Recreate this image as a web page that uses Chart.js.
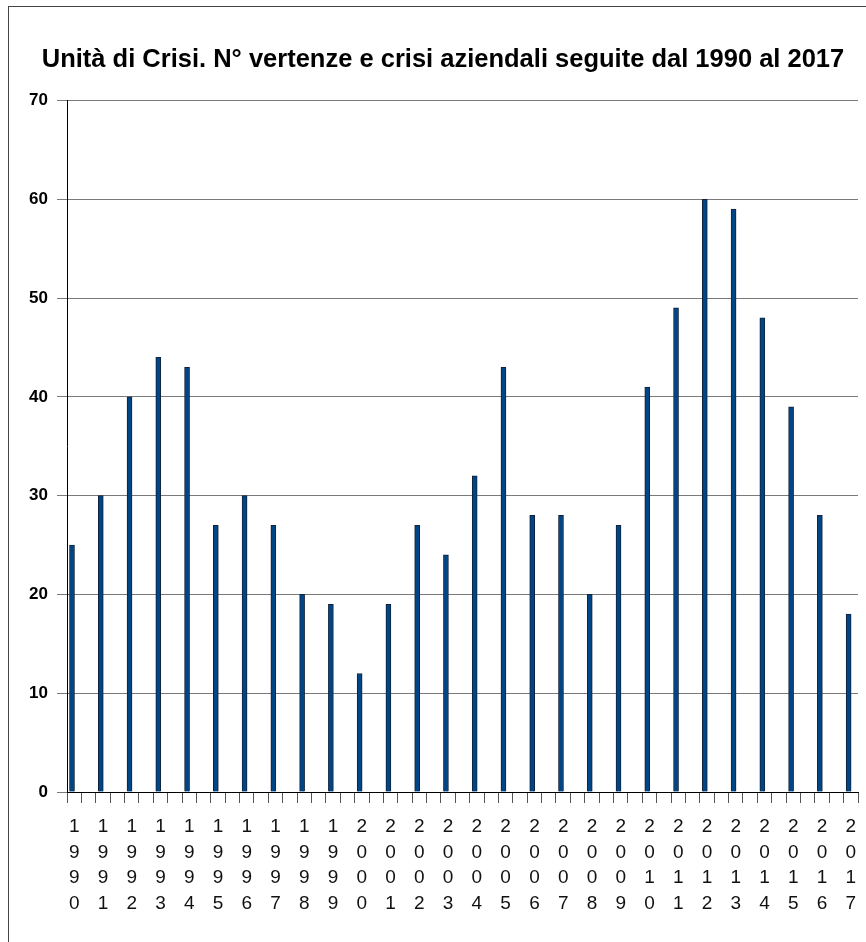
<!DOCTYPE html>
<html>
<head>
<meta charset="utf-8">
<script src="https://cdn.jsdelivr.net/npm/chart.js@4"></script>
<style>
  html, body { margin: 0; padding: 0; background: #fff; overflow: hidden; }
  #frame { position: absolute; left: 8px; top: 6px; width: 900px; height: 1000px;
           border-left: 1px solid #444; border-top: 1px solid #444; }
  #wrap { position: absolute; left: 0; top: 0; width: 866px; height: 942px; }
</style>
</head>
<body>
<div id="frame"></div>
<div id="wrap"><canvas id="chart" width="866" height="942"></canvas></div>
<script>
// --- Data ---
const years = ["1990","1991","1992","1993","1994","1995","1996","1997","1998","1999",
               "2000","2001","2002","2003","2004","2005","2006","2007","2008","2009",
               "2010","2011","2012","2013","2014","2015","2016","2017"];
const vertenze = [25, 30, 40, 44, 43, 27, 30, 27, 20, 19,
                  12, 19, 27, 24, 32, 43, 28, 28, 20, 27,
                  41, 49, 60, 59, 48, 39, 28, 18];
const yTicks = [0, 10, 20, 30, 40, 50, 60, 70];

const titleText = "Unità di Crisi. N° vertenze e crisi aziendali seguite dal 1990 al 2017";

// x range: bars sit a little left of each half-tick pair, like the original
const xMin = -0.174;
const xMax = xMin + 27.5;

const ctx = document.getElementById("chart").getContext("2d");
new Chart(ctx, {
    type: "bar",
    data: {
        datasets: [{
            label: "Vertenze",
            data: vertenze.map((v, i) => ({ x: i, y: v })),
            backgroundColor: "#004586",
            borderColor: "#10223a",
            borderWidth: 1,
            barThickness: 5
        }]
    },
    options: {
        responsive: false,
        animation: false,
        layout: { padding: { left: 28, right: 8, top: 0, bottom: 0 } },
        plugins: {
            legend: { display: false },
            tooltip: { enabled: false },
            title: {
                display: true,
                text: titleText,
                align: "center",
                color: "#000",
                font: { family: "'Liberation Sans', Arial, sans-serif", size: 25.5, weight: "bold", lineHeight: 1.2 },
                padding: { top: 45, bottom: 24.9 }
            }
        },
        scales: {
            x: {
                type: "linear",
                offset: false,
                min: xMin,
                max: xMax,
                afterBuildTicks: s => {
                    const t = [];
                    for (let k = 0; k <= 55; k++) t.push({ value: xMin + 0.5 * k });
                    s.ticks = t;
                },
                afterFit: s => {
                    s.height = 150;
                    s.paddingLeft = 0;
                    s.paddingRight = 0;
                },
                border: { color: "#000", width: 1 },
                grid: { offset: false, drawOnChartArea: false, drawTicks: true, tickLength: 11, color: "#555" },
                ticks: {
                    autoSkip: false,
                    maxRotation: 0,
                    minRotation: 0,
                    labelOffset: 7.2,
                    padding: 11,
                    color: "#111",
                    font: { family: "'Liberation Sans', Arial, sans-serif", size: 19, lineHeight: 1.35 },
                    callback: (v, i) => (i % 2 === 0 && years[i / 2]) ? years[i / 2].split("") : ""
                }
            },
            y: {
                min: 0,
                max: 70,
                afterBuildTicks: s => { s.ticks = yTicks.map(v => ({ value: v })); },
                afterFit: s => { s.width = 39; },
                border: { color: "#000", width: 1 },
                grid: { color: "#7a7a7a", lineWidth: 1, tickLength: 10 },
                ticks: {
                    padding: 9,
                    color: "#000",
                    font: { family: "'Liberation Sans', Arial, sans-serif", size: 17, weight: "bold" }
                }
            }
        }
    }
});
</script>
</body>
</html>
